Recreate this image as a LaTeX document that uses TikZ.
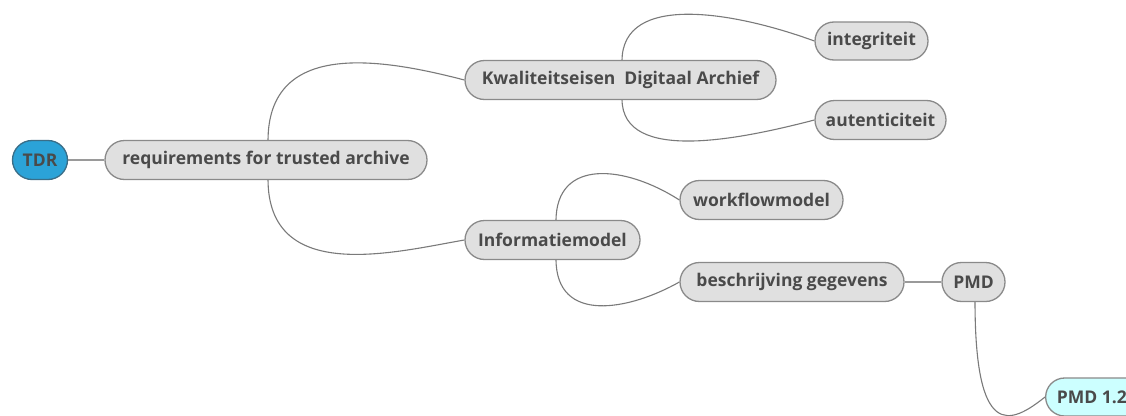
\documentclass[tikz,border=0pt]{standalone}
\usepackage{fontspec}
\setmainfont{Open Sans}
\usetikzlibrary{shapes.misc}
\definecolor{nodefill}{HTML}{E0E0E0}
\definecolor{nodeline}{HTML}{8A8A8A}
\definecolor{nodetext}{HTML}{4A4A4A}
\definecolor{rootfill}{HTML}{2BA3D8}
\definecolor{rootline}{HTML}{3A6E88}
\definecolor{leaffill}{HTML}{CCFFFF}
\definecolor{curveline}{HTML}{7A7A7A}
\definecolor{barline}{HTML}{9A9A9A}
\pgfdeclarelayer{background}
\pgfsetlayers{background,main}
\tikzset{
  topic/.style={rounded rectangle, draw=nodeline, line width=1.3pt, fill=nodefill,
    text=nodetext, font=\fontsize{17.5}{20}\selectfont\bfseries, inner sep=0pt,
    minimum height=39pt},
  link/.style={draw=curveline, line width=1.1pt},
  bar/.style={draw=barline, line width=2.2pt},
}
\begin{document}
\begin{tikzpicture}[x=1pt,y=-1pt]
\useasboundingbox (0,0) rectangle (1126,415);
\clip (0,0) rectangle (1126,415);

% topics
\node[topic, fill=rootfill, draw=rootline, minimum width=55pt] (tdr) at (40,160) {TDR};
\node[topic, minimum width=322pt] (req) at (266,160) {requirements for trusted archive};
\node[topic, minimum width=311pt] (kw) at (620.5,80) {Kwaliteitseisen\ \ Digitaal Archief};
\node[topic, minimum width=113pt, minimum height=38pt] (int) at (871.5,41) {integriteit};
\node[topic, minimum width=131pt] (aut) at (880.5,120) {autenticiteit};
\node[topic, minimum width=175pt] (inf) at (552.5,240) {Informatiemodel};
\node[topic, minimum width=163pt] (wf) at (761.5,200) {workflowmodel};
\node[topic, minimum width=224pt] (bes) at (792,282) {beschrijving gegevens};
\node[topic, minimum width=63pt] (pmd) at (973.5,282) {PMD};
\node[topic, fill=leaffill, minimum height=38pt, inner xsep=10pt, anchor=west] (pmd12) at (1045,397)
  {\makebox[90pt][l]{PMD 1.2}};

% connector end points on the topic outlines
\coordinate (reqT) at (268,141);
\coordinate (reqB) at (268,179);
\coordinate (kwT) at (622,61);
\coordinate (kwB) at (622,99);
\coordinate (infT) at (556,221);
\coordinate (infB) at (556,259);
\coordinate (pmdB) at (975,301);

\begin{pgfonlayer}{background}
\fill[white] (0,0) rectangle (1126,415);
\draw[bar] (tdr.east) -- (req.west);
\draw[bar] (bes.east) -- (pmd.west);
\draw[link] (reqT) .. controls (268,40) and (380,58) .. (kw.west);
\draw[link] (reqB) .. controls (268,285) and (395,252) .. (inf.west);
\draw[link] (kwT) .. controls (622,-8) and (735,12) .. (int.west);
\draw[link] (kwB) .. controls (622,165) and (745,138) .. (aut.west);
\draw[link] (infT) .. controls (556,158) and (625,165) .. (wf.west);
\draw[link] (infB) .. controls (556,325) and (630,310) .. (bes.west);
\draw[link] (pmdB) .. controls (975,440) and (1010,425) .. (pmd12.west);
\end{pgfonlayer}
\end{tikzpicture}
\end{document}
